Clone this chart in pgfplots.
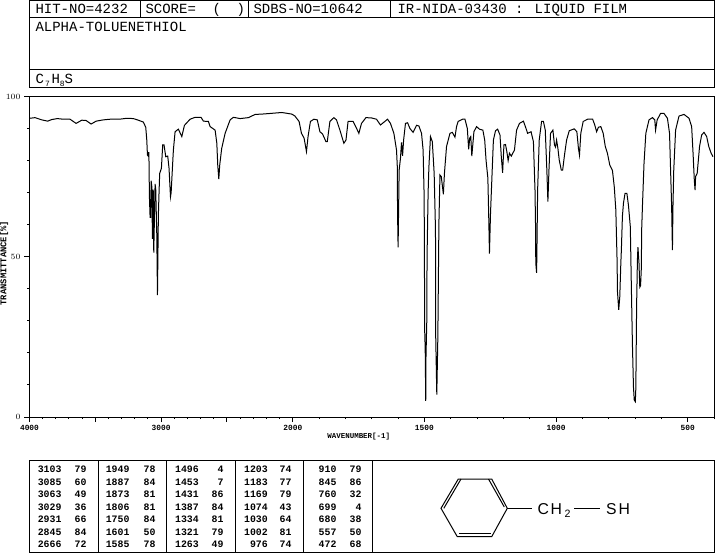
\documentclass[border=0pt]{standalone}
\usepackage{fontspec}
\setmainfont{Liberation Mono}
\newfontfamily\structfont{Liberation Sans}
\usepackage{pgfplots}
\pgfplotsset{compat=1.18}
\usepackage{pgfplotstable}

% wavenumber, transmittance (%)
\pgfplotstableread{
wn T
3996 93.2
3958 93.4
3907 92.7
3862 92.3
3831 92.8
3788 93.1
3743 92.9
3692 92.9
3646 91.6
3603 92.6
3570 92.5
3532 91.4
3494 92.3
3439 92.7
3388 92.9
3317 92.9
3261 93.2
3211 93.1
3173 92.6
3135 92.0
3117 90.4
3109 86.4
3104 81.7
3100 81.5
3097 82.5
3093 82.5
3089 68.7
3084 62.3
3080 62.3
3076 73.7
3071 72
3066 55.6
3064 70.8
3060 70.8
3056 51.3
3051 62
3046 72.7
3041 71
3036 62
3033 56.8
3028 38
3021 63
3016 70
3011 76
2998 77.6
2988 84.9
2978 84.9
2965 81.2
2950 81.4
2940 77.6
2929 68.7
2924 70
2919 74
2907 83.3
2894 89
2869 89.8
2843 87.5
2823 91
2780 92.9
2742 93.5
2697 93.5
2679 92.3
2641 92.2
2628 90.6
2590 89.5
2577 85.4
2570 78.6
2562 74.2
2555 78.6
2540 83.8
2514 88.5
2476 92.7
2451 93.5
2400 93.1
2337 93.4
2286 94.4
2235 94.5
2172 94.7
2083 95
2007 94.5
1992 93.9
1976 92.2
1967 88.5
1957 87
1948 82.8
1942 87.5
1933 92.2
1920 92.9
1907 92.7
1897 89
1887 88.3
1874 85.9
1869 85.9
1859 92.2
1844 93.4
1834 92.7
1821 89.5
1806 85.4
1798 86.4
1790 92.2
1771 92.2
1761 90.6
1749 88.5
1739 91.6
1722 93.4
1701 93.3
1682 92.9
1667 91.1
1640 92.9
1629 91.6
1616 88.5
1606 83.3
1603 78.1
1602 63.5
1600 52.9
1596 77
1591 80.7
1587 85.7
1583 81.5
1579 86.4
1572 91.6
1564 91.8
1555 90
1543 88.8
1530 91
1521 90.8
1511 88.5
1505 83.3
1501 68.7
1500 50
1499 27
1497 21
1495 5
1494 19
1491 30
1490 50
1486 70
1483 78
1477 87.5
1470 85.9
1463 76
1458 58.4
1457 24.6
1453 7
1449 25
1445 60.4
1441 75.5
1436 75
1428 69.5
1424 76
1416 84.4
1403 88.5
1394 88.8
1384 87.3
1378 90.6
1372 92.2
1355 92.9
1346 92.9
1337 90
1332 83.5
1328 87
1324 87.5
1320 81.4
1312 89
1302 90.6
1291 89.8
1278 89.5
1271 86.4
1266 80.2
1259 74.5
1256 63.5
1253 51
1249 63.5
1245 71.9
1238 86.4
1230 89.3
1222 89.8
1213 88
1208 81.2
1203 76.2
1198 84.9
1192 85
1187 82.8
1182 80
1177 82.3
1170 81.4
1158 83.3
1150 89.5
1139 91.6
1124 92.3
1114 90
1108 88.5
1095 89
1086 85.9
1080 70.8
1078 60
1077 48
1074 45
1073 50
1070 70.8
1064 86.4
1055 92.2
1048 92.2
1041 89.5
1035 77
1031 67.2
1027 77
1021 88.5
1012 89.5
1006 84.9
1002 84.2
998 86.4
993 83.8
988 80.2
980 77
975 77
968 81.7
960 86.4
950 89.3
931 89.9
921 89
915 83.8
911 81.7
906 88.5
897 92.2
880 92.9
861 92.9
853 91.1
846 89
839 90.4
830 90.6
821 88.5
813 84.4
805 82.3
796 78.6
786 77
779 71.9
773 64.6
768 48
767 39.4
762 33.4
758 37.5
754 48
752 52
748 62.6
744 66.7
738 69.8
731 69.8
725 66
718 59.4
716 50
714 40.5
710 22.8
706 9.3
703 5.3
699 4.8
697 9
694 35
691 49
689 53
685 48
682 40.5
679 41
676 46.7
675 58
672 65.6
666 79
659 88.5
647 92.7
634 93.4
625 92.7
622 89.5
616 92.7
603 94.7
590 94.7
577 93.2
569 88.5
565 77
561 65.6
559 56.3
558 52.1
556 65.6
553 77
546 89.5
533 93.9
514 94.4
495 93.2
485 90.6
479 81.2
475 74
472 70.8
470 75
464 76
455 84.4
447 88
438 88.8
428 87.5
420 84.4
411 82.3
404 81.2
}\spectrum

\newcommand{\subdigit}[1]{\raisebox{-1.9pt}{\fontsize{6}{7}\selectfont #1}}

\begin{document}
\begin{tikzpicture}
\path[use as bounding box] (0,0) rectangle (536.25pt,-414.75pt);
\begin{axis}[
  at={(22.125pt,-312.75pt)}, anchor=south west,
  scale only axis, width=513.4pt, height=240.4pt,
  % the scale doubles below 2000
  x coord trafo/.code={\pgfmathparse{#1>=2000 ? 4000-#1 : 6000-2*#1}},
  xmin=4000, xmax=400, ymin=0, ymax=100,
  axis line style={line width=0.75pt},
  xtick={4000,3000,2000,1500,1000,500},
  xticklabels={4000,3000,2000,1500,1000,500},
  extra x ticks={3500,2500},
  extra x tick labels={},
  minor xtick={3900,3800,3700,3600,3400,3300,3200,3100,2900,2800,2700,2600,2400,2300,2200,2100,1900,1800,1700,1600,1400,1300,1200,1100,900,800,700,600,400},
  ytick={0,50,100},
  minor ytick={10,20,30,40,60,70,80,90},
  tick align=outside, tick pos=left,
  major tick length=3.75pt, minor tick length=1.5pt,
  every tick/.style={line width=0.75pt,black},
  every tick label/.style={font=\fontsize{5.9}{6}\selectfont\bfseries},
  xticklabel style={yshift=1pt},
  yticklabel style={xshift=0.5pt},
  xlabel={WAVENUMBER[-1]},
  ylabel={TRANSMITTANCE[\%]},
  every axis x label/.style={at={(axis description cs:0.481,-0.062)},anchor=center,font=\fontsize{5.6}{6}\selectfont\bfseries},
  every axis y label/.style={at={(axis description cs:-0.037,0.48)},anchor=center,rotate=90,font=\fontsize{6.6}{7}\selectfont\bfseries},
]
\addplot[black,line width=0.75pt,sharp plot,no marks] table[x=wn,y=T] {\spectrum};
\end{axis}
\begin{scope}[x=0.75pt,y=-0.75pt,line width=0.75pt]
  % header boxes
  \draw (29.5,0.5) rectangle (714.5,87.5);
  \draw (29.5,17.5) -- (714.5,17.5);
  \draw (29.5,69.5) -- (714.5,69.5);
  \draw (140.5,0.5) -- (140.5,17.5);
  \draw (248.5,0.5) -- (248.5,17.5);
  \draw (390.5,0.5) -- (390.5,17.5);
  \begin{scope}[every node/.style={inner sep=0pt,anchor=base west,font=\fontsize{10.5}{12}\selectfont}]
    \node at (35,13.7) {HIT-NO=4232};
    \node at (145,13.7) {SCORE=};
    \node at (212,13.7) {(};
    \node at (236,13.7) {)};
    \node at (253,13.7) {SDBS-NO=10642};
    \node at (397,13.7) {IR-NIDA-03430 : LIQUID FILM};
    \node at (35,31.5) {ALPHA-TOLUENETHIOL};
    \node at (35,84) {C\kern0.9pt\subdigit{7}\kern1.2pt H\subdigit{8}S};
  \end{scope}
  % peak table
  \draw (29.5,460.5) rectangle (372.5,552.5);
  \foreach \x in {98.5,166.5,235.5,303.5}
    \draw (\x,460.5) -- (\x,552.5);
  \draw (372.5,460.5) rectangle (714.5,552.5);
  \begin{scope}[every node/.style={inner sep=0pt,anchor=base east,font=\fontsize{7.4}{8}\selectfont\bfseries}]
    \foreach \wx/\tx/\vals in {62/87/{3103/79,3085/60,3063/49,3029/36,2931/66,2845/84,2666/72},
        130/156/{1949/78,1887/84,1873/81,1806/81,1750/84,1601/50,1585/78},
        199.3/224/{1496/4,1453/7,1431/86,1387/84,1334/81,1321/79,1263/49},
        268.3/292/{1203/74,1183/77,1169/79,1074/43,1030/64,1002/81,976/74},
        337/362/{910/79,845/86,760/32,699/4,680/38,557/50,472/68}}{
      \foreach \w/\t [count=\i from 0] in \vals {
        \pgfmathsetmacro{\yy}{472.8+12.45*\i}
        \node at (\wx,\yy) {\w};
        \node at (\tx,\yy) {\t};
      }
    }
  \end{scope}
  % structure
  \draw (441,508.3) -- (458.3,479) -- (491.7,479) -- (507.3,508.3) -- (491.7,536.7) -- (457.3,536.7) -- cycle;
  \draw (443.8,508.3) -- (461,479);
  \draw (488.5,479) -- (504.3,507);
  \draw (459,533.5) -- (490.5,533.5);
  \draw (507.3,508.3) -- (532.3,508.3);
  \draw (574,508.3) -- (600,508.3);
  \begin{scope}[every node/.style={inner sep=0pt,anchor=base west,font=\structfont\fontsize{11.8}{14}\selectfont}]
    \node at (537,514) {C};
    \node at (550,514) {H};
    \node at (605.5,514) {S};
    \node at (618,514) {H};
    \node[font=\structfont\fontsize{8}{10}\selectfont] at (564,517) {2};
  \end{scope}
\end{scope}
\end{tikzpicture}
\end{document}
